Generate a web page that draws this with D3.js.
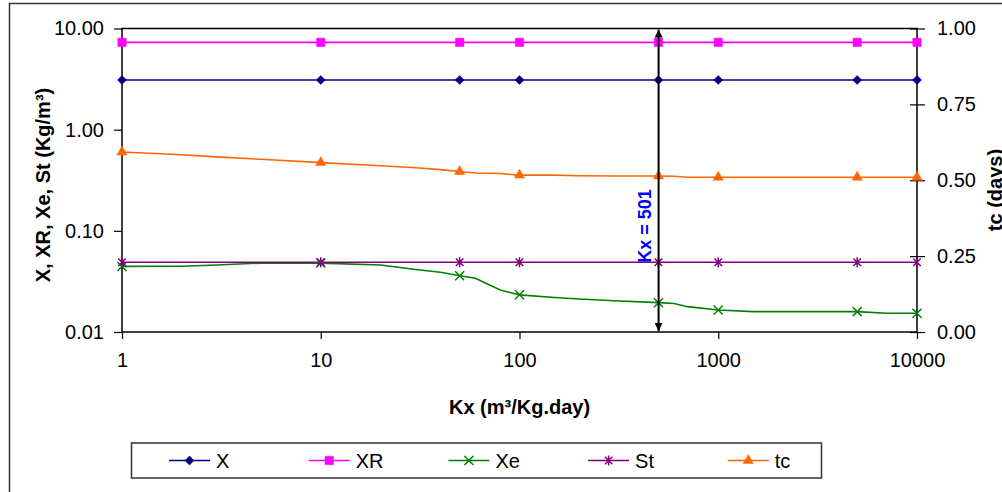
<!DOCTYPE html>
<html>
<head>
<meta charset="utf-8">
<script src="https://cdn.jsdelivr.net/npm/d3@7/dist/d3.min.js"></script>
<style>
  body { margin: 0; background: #fff; }
  text { font-family: Arial, "Liberation Sans", sans-serif; }
</style>
</head>
<body>
<svg id="chart" width="1002" height="492"></svg>
<script>
// Kx values where the curves are sampled, and where markers are shown
const kxLine = [1, 2, 3, 5, 10, 20, 30, 40, 50, 60, 80, 100, 150, 200, 300, 500, 600, 700, 1000, 1500, 5000, 7000, 10000];
const kxMarks = [1, 10, 50, 100, 500, 1000, 5000, 10000];

// constant series (Kg/m3)
const xVal = 3.1;
const xrVal = 7.3;
const stVal = 0.049;

// effluent biomass Xe (Kg/m3)
const xeLine = [0.0445, 0.0447, 0.046, 0.048, 0.048, 0.046, 0.0415, 0.039, 0.036, 0.034, 0.026, 0.0233, 0.0219, 0.0212, 0.0204, 0.0195, 0.0191, 0.0178, 0.0165, 0.0159, 0.0159, 0.0153, 0.0153];
// critical time tc (days), right axis
const tcLine = [0.593, 0.584, 0.577, 0.569, 0.558, 0.548, 0.541, 0.535, 0.529, 0.524, 0.522, 0.517, 0.517, 0.515, 0.514, 0.514, 0.513, 0.510, 0.510, 0.510, 0.510, 0.510, 0.510];

const kxAnnot = 501;

const xTicks = [1, 10, 100, 1000, 10000];
const yLeftTicks = [0.01, 0.1, 1, 10];
const yRightTicks = [0, 0.25, 0.5, 0.75, 1];

const svg = d3.select("#chart");

const plotLeft = 122, plotRight = 917, plotTop = 28.5, plotBottom = 332;

let x = d3.scaleLog().domain([1, 10000]).range([plotLeft, plotRight]);
let yL = d3.scaleLog().domain([0.01, 10]).range([plotBottom, plotTop]);
let yR = d3.scaleLinear().domain([0, 1]).range([plotBottom, plotTop]);

// outer chart border
svg.append("rect")
    .attr("x", 9.5).attr("y", 3.5)
    .attr("width", 1100).attr("height", 600)
    .attr("fill", "none").attr("stroke", "#333").attr("stroke-width", 1.5);

// axes
let gx = svg.append("g")
    .attr("transform", "translate(0," + plotBottom + ")")
    .call(d3.axisBottom(x).tickValues(xTicks).tickFormat(d3.format("d")).tickSize(7).tickPadding(14));

let gl = svg.append("g")
    .attr("transform", "translate(" + plotLeft + ",0)")
    .call(d3.axisLeft(yL).tickValues(yLeftTicks).tickFormat(d3.format(".2f")).tickSize(8).tickPadding(10));

let gr = svg.append("g")
    .attr("transform", "translate(" + plotRight + ",0)")
    .call(d3.axisRight(yR).tickValues(yRightTicks).tickFormat(d3.format(".2f")).tickSize(8).tickPadding(12));

[gx, gl, gr].forEach(function (g) {
    g.select(".domain").remove();
    g.selectAll("line").attr("stroke", "#000").attr("stroke-width", 1.2);
    g.selectAll("text").attr("font-size", 20).attr("fill", "#000")
        .style("font-family", "Arial, 'Liberation Sans', sans-serif");
});
// right axis ticks cross the axis line
gr.selectAll(".tick line").attr("x1", -7);

// plot area border
svg.append("rect")
    .attr("x", plotLeft).attr("y", plotTop)
    .attr("width", plotRight - plotLeft).attr("height", plotBottom - plotTop)
    .attr("fill", "none").attr("stroke", "#000").attr("stroke-width", 1.5);

// axis titles
svg.append("text")
    .attr("x", (plotLeft + plotRight) / 2).attr("y", 407)
    .attr("dy", "0.35em").attr("text-anchor", "middle")
    .attr("font-size", 20).attr("font-weight", "bold")
    .text("Kx (m³/Kg.day)");

svg.append("text")
    .attr("transform", "translate(43,185) rotate(-90)")
    .attr("dy", "0.35em").attr("text-anchor", "middle")
    .attr("font-size", 20).attr("font-weight", "bold")
    .text("X, XR, Xe, St (Kg/m³)");

svg.append("text")
    .attr("transform", "translate(995,190) rotate(-90)")
    .attr("dy", "0.35em").attr("text-anchor", "middle")
    .attr("font-size", 20).attr("font-weight", "bold")
    .text("tc (days)");

// marker shapes
function starPath(r) {
    return "M0," + (-r) + "L0," + r +
        "M" + (-r * 0.75) + "," + (-r * 0.75) + "L" + (r * 0.75) + "," + (r * 0.75) +
        "M" + (-r * 0.75) + "," + (r * 0.75) + "L" + (r * 0.75) + "," + (-r * 0.75);
}
function timesPath(r) {
    return "M" + (-r) + "," + (-r) + "L" + r + "," + r + "M" + (-r) + "," + r + "L" + r + "," + (-r);
}

// series definitions
let series = [
    {name: "X", color: "#000080", kx: kxMarks, values: kxMarks.map(function () { return xVal; }), y: yL,
        shape: d3.symbol().type(d3.symbolDiamond2).size(52)(), fill: true},
    {name: "XR", color: "#FF00FF", kx: kxMarks, values: kxMarks.map(function () { return xrVal; }), y: yL,
        shape: d3.symbol().type(d3.symbolSquare).size(70)(), fill: true},
    {name: "Xe", color: "#008000", kx: kxLine, values: xeLine, y: yL,
        shape: timesPath(4.5), fill: false},
    {name: "St", color: "#800080", kx: kxMarks, values: kxMarks.map(function () { return stVal; }), y: yL,
        shape: starPath(5), fill: false},
    {name: "tc", color: "#FF6600", kx: kxLine, values: tcLine, y: yR,
        shape: d3.symbol().type(d3.symbolTriangle).size(46)(), fill: true}
];

let line = d3.line();

series.forEach(function (s) {
    let pts = s.kx.map(function (k, i) { return [x(k), s.y(s.values[i])]; });
    svg.append("path")
        .attr("d", line(pts))
        .attr("fill", "none")
        .attr("stroke", s.color)
        .attr("stroke-width", 1.6);

    let marks = s.kx.map(function (k, i) { return {k: k, v: s.values[i]}; })
        .filter(function (d) { return kxMarks.indexOf(d.k) >= 0; });

    svg.append("g").selectAll("path")
        .data(marks)
        .enter().append("path")
        .attr("transform", function (d) { return "translate(" + x(d.k) + "," + s.y(d.v) + ")"; })
        .attr("d", s.shape)
        .attr("fill", s.fill ? s.color : "none")
        .attr("stroke", s.color)
        .attr("stroke-width", s.fill ? 0.5 : 1.5);
});

// Kx = 501 annotation with double arrow
let defs = svg.append("defs");
defs.append("marker")
    .attr("id", "arrow")
    .attr("viewBox", "0 0 10 10")
    .attr("refX", 10).attr("refY", 5)
    .attr("markerWidth", 4).attr("markerHeight", 4)
    .attr("orient", "auto-start-reverse")
    .append("path").attr("d", "M0,0L10,5L0,10Z").attr("fill", "#000");

svg.append("line")
    .attr("x1", x(kxAnnot)).attr("x2", x(kxAnnot))
    .attr("y1", yL(10) + 1).attr("y2", yL(0.01) - 1)
    .attr("stroke", "#000").attr("stroke-width", 2)
    .attr("marker-start", "url(#arrow)")
    .attr("marker-end", "url(#arrow)");

svg.append("text")
    .attr("transform", "translate(" + (x(kxAnnot) - 14) + ",226) rotate(-90)")
    .attr("dy", "0.35em").attr("text-anchor", "middle")
    .attr("font-size", 18).attr("font-weight", "bold")
    .attr("fill", "#0000FF")
    .text("Kx = " + kxAnnot);

// legend
let legend = svg.append("g");
legend.append("rect")
    .attr("x", 131.5).attr("y", 443)
    .attr("width", 690).attr("height", 35)
    .attr("fill", "#fff").attr("stroke", "#333").attr("stroke-width", 1.5);

series.forEach(function (s, i) {
    let lx = 169 + i * 139.7, ly = 460.5;
    let g = legend.append("g");
    g.append("line")
        .attr("x1", lx).attr("x2", lx + 41)
        .attr("y1", ly).attr("y2", ly)
        .attr("stroke", s.color).attr("stroke-width", 1.6);
    g.append("path")
        .attr("transform", "translate(" + (lx + 20.5) + "," + ly + ")")
        .attr("d", s.shape)
        .attr("fill", s.fill ? s.color : "none")
        .attr("stroke", s.color)
        .attr("stroke-width", s.fill ? 0.5 : 1.5);
    g.append("text")
        .attr("x", lx + 47).attr("y", ly)
        .attr("dy", "0.35em")
        .attr("font-size", 20)
        .text(s.name);
});
</script>
</body>
</html>
